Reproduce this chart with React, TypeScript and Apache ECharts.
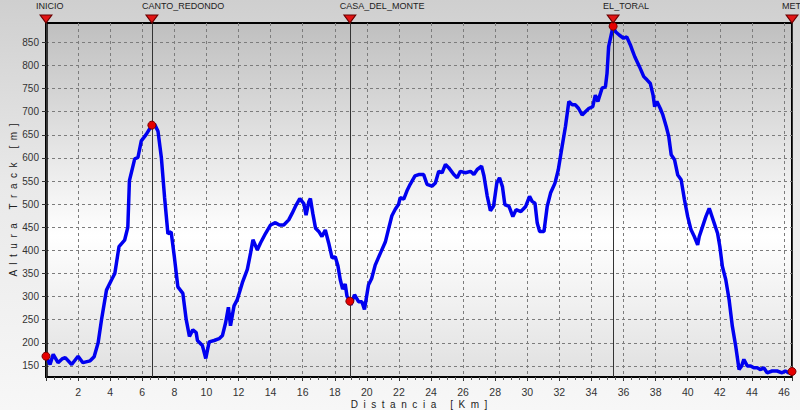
import React, { useEffect, useRef } from "react";
import * as echarts from "echarts";

// Elevation profile: distance (km) and altitude (m)
const profileKm = [
  0, 0.25, 0.45, 0.75, 1.0, 1.2, 1.6, 2.0, 2.3, 2.75, 3.0, 3.25, 3.46, 3.77, 4.08, 4.29, 4.55, 4.9, 5.1, 5.2,
  5.53, 5.73, 5.94, 6.25, 6.6, 6.77, 6.98, 7.19, 7.39, 7.6, 7.8, 8.0, 8.22, 8.53, 8.74, 8.94, 9.15, 9.36,
  9.44, 9.75, 9.96, 10.17, 10.48, 10.79, 11.0, 11.2, 11.37, 11.5, 11.72, 11.93, 12.24, 12.55, 12.75, 12.9,
  13.17, 13.37, 13.69, 14.0, 14.3, 14.55, 14.82, 15.13, 15.34, 15.59, 15.82, 16.07, 16.21, 16.38, 16.48,
  16.63, 16.8, 17.0, 17.2, 17.41, 17.62, 17.83, 18.03, 18.2, 18.34, 18.49, 18.65, 18.76, 18.94, 19.0, 19.23,
  19.48, 19.69, 19.85, 20.1, 20.3, 20.52, 20.83, 21.15, 21.35, 21.56, 21.77, 21.98, 22.08, 22.3, 22.5, 22.7,
  23.0, 23.23, 23.54, 23.75, 24.06, 24.27, 24.48, 24.69, 24.9, 25.1, 25.42, 25.63, 25.83, 26.15, 26.46,
  26.67, 26.88, 27.15, 27.3, 27.5, 27.7, 27.9, 28.1, 28.27, 28.45, 28.6, 28.86, 29.1, 29.3, 29.6, 29.9,
  30.14, 30.3, 30.48, 30.62, 30.77, 31.04, 31.24, 31.45, 31.72, 31.93, 32.17, 32.38, 32.59, 32.8, 33.0,
  33.2, 33.42, 33.62, 33.83, 34.08, 34.24, 34.4, 34.66, 34.87, 34.97, 35.07, 35.35, 35.5, 35.73, 36.0,
  36.2, 36.42, 36.55, 36.7, 37.0, 37.26, 37.46, 37.67, 37.84, 37.94, 38.08, 38.29, 38.45, 38.66, 38.82,
  38.97, 39.18, 39.38, 39.59, 39.8, 40.0, 40.2, 40.41, 40.62, 40.72, 40.93, 41.13, 41.34, 41.44, 41.65,
  41.86, 42.0, 42.16, 42.37, 42.58, 42.78, 42.99, 43.2, 43.36, 43.5, 43.71, 43.92, 44.12, 44.33, 44.54,
  44.74, 44.95, 45.26, 45.57, 45.88, 46.08, 46.3, 46.5,
];
const profileAlt = [
  171, 153, 175, 157, 165, 168, 153, 171, 157, 161, 170, 200, 250, 314, 336, 350, 408, 422, 450, 551,
  598, 601, 637, 651, 671, 673, 658, 601, 515, 436, 440, 386, 321, 307, 250, 214, 228, 222,
  205, 194, 166, 202, 205, 209, 216, 244, 277, 237, 280, 294, 330, 359, 394, 423,
  401, 416, 437, 455, 460, 455, 455, 466, 480, 498, 512, 501, 476, 505, 512,
  480, 448, 441, 430, 444, 416, 384, 386, 366, 337, 316, 327, 301, 290, 282, 304,
  289, 289, 272, 325, 339, 368, 393, 418, 446, 475, 489, 500, 514, 511, 529, 543,
  561, 564, 564, 543, 539, 546, 571, 568, 586, 579, 564, 557, 571, 568, 571,
  564, 575, 582, 561, 518, 486, 496, 546, 557, 538, 499, 495, 473, 488, 484, 495,
  517, 506, 502, 459, 441, 441, 495, 524, 545, 574, 625, 668, 722, 715, 715,
  707, 693, 700, 707, 711, 736, 722, 751, 754, 783, 841, 885, 873, 866, 859,
  862, 845, 833, 819, 797, 776, 769, 761, 736, 711, 722, 707, 693, 668, 646,
  607, 596, 563, 553, 509, 473, 445, 430, 412, 430, 452, 473, 491, 481, 459,
  437, 409, 365, 337, 293, 236, 193, 142, 150, 164, 150, 150, 146, 146, 142,
  146, 135, 139, 139, 135, 139, 135, 138,
];

// Waypoints
const waypointNames = ["INICIO", "CANTO_REDONDO", "CASA_DEL_MONTE", "EL_TORAL", "META"];
const waypointKm = [0, 6.6, 18.94, 35.35, 46.5];
const waypointAlt = [171, 671, 290, 885, 138];

// Axis
const yTickValues = [150, 200, 250, 300, 350, 400, 450, 500, 550, 600, 650, 700, 750, 800, 850];
const xMin = 0;
const xMax = 46.5;
const xStep = 2;
const yMin = 126;
const yMax = 892;
const xTitle = "D  i  s  t  a  n  c  i  a     [  K  m  ]";
const yTitle = "A  l  t  u  r  a     T  r  a  c  k     [  m  ]";

export default function App() {
  const ref = useRef<HTMLDivElement>(null);
  useEffect(() => {
    const chart = echarts.init(ref.current as HTMLDivElement, null, { renderer: "svg" });
    const font = "'Liberation Sans', Arial, sans-serif";
    const dashed = { color: "#7c7c7c", width: 1, type: [3, 3] as number[] };
    chart.setOption({
      animation: false,
      backgroundColor: "transparent",
      textStyle: { fontFamily: font },
      grid: {
        left: 46,
        right: 8,
        top: 23,
        bottom: 33,
        containLabel: false,
        outerBoundsMode: "none",
        show: true,
        borderColor: "#000",
        borderWidth: 2,
        backgroundColor: {
          type: "linear",
          x: 0,
          y: 0,
          x2: 0,
          y2: 1,
          colorStops: [
            { offset: 0, color: "#bfbfbf" },
            { offset: 0.6, color: "#ffffff" },
            { offset: 1, color: "#e0e0e0" },
          ],
        },
      },
      xAxis: {
        type: "value",
        min: xMin,
        max: xMax,
        interval: xStep,
        name: xTitle,
        nameLocation: "middle",
        nameGap: 22,
        nameMoveOverlap: false,
        nameTextStyle: { fontFamily: font, fontSize: 10, color: "#222" },
        axisLine: { show: true, onZero: false, lineStyle: { color: "#000", width: 2 } },
        axisTick: { show: true, length: 4, lineStyle: { color: "#333" } },
        minorTick: { show: true, splitNumber: 4, length: 3, lineStyle: { color: "#555" } },
        axisLabel: {
          fontFamily: font,
          fontSize: 10.5,
          color: "#333",
          margin: 9,
          showMaxLabel: false,
          formatter: (v: number) => (v === 0 || v % 2 !== 0 ? "" : String(v)),
        },
        splitLine: { show: true, lineStyle: dashed },
      },
      yAxis: {
        type: "value",
        min: yMin,
        max: yMax,
        name: yTitle,
        nameLocation: "middle",
        nameGap: 28,
        nameMoveOverlap: false,
        nameRotate: 90,
        nameTextStyle: { fontFamily: font, fontSize: 10, color: "#222" },
        axisLine: { show: true, lineStyle: { color: "#000", width: 2.5 } },
        axisTick: { show: true, length: 4, customValues: yTickValues, lineStyle: { color: "#333" } },
        axisLabel: { customValues: yTickValues, fontFamily: font, fontSize: 10, color: "#333", margin: 7 },
        splitLine: { show: true, lineStyle: dashed },
      },
      series: [
        {
          type: "line",
          data: profileKm.map((k, i) => [k, profileAlt[i]]),
          showSymbol: false,
          symbol: "none",
          lineStyle: { color: "#0000f0", width: 3.5 },
          z: 3,
        },
        {
          type: "scatter",
          data: waypointKm.map((k, i) => [k, waypointAlt[i]]),
          symbol: "circle",
          symbolSize: 8,
          clip: false,
          itemStyle: { color: "#e60000", borderColor: "#7a0000", borderWidth: 1, opacity: 1 },
          z: 6,
        },
        {
          type: "scatter",
          data: waypointKm.map((k, i) => ({ value: [k, yMax], name: waypointNames[i] })),
          symbol: "triangle",
          symbolRotate: 180,
          symbolSize: [12, 8],
          symbolOffset: [0, -4],
          clip: false,
          itemStyle: { color: "#e21414", borderColor: "#6a0000", borderWidth: 1, opacity: 1 },
          label: {
            show: true,
            position: "top",
            align: "left",
            offset: [-10, 0],
            distance: 4,
            formatter: "{b}",
            fontFamily: font,
            fontSize: 9,
            color: "#222",
          },
          markLine: {
            silent: true,
            symbol: ["none", "none"],
            label: { show: false },
            lineStyle: { color: "#333", width: 1, type: "solid" },
            data: waypointKm.map((k) => ({ xAxis: k })),
          },
          z: 7,
        },
      ],
    });
    return () => chart.dispose();
  }, []);
  return (
    <div
      style={{
        position: "fixed",
        left: 0,
        top: 0,
        width: 800,
        height: 410,
        background: "linear-gradient(to bottom, #cfcfcf 0%, #e9e9e9 45%, #f7f7f7 100%)",
      }}
    >
      <div ref={ref} style={{ width: 800, height: 410 }} />
    </div>
  );
}
